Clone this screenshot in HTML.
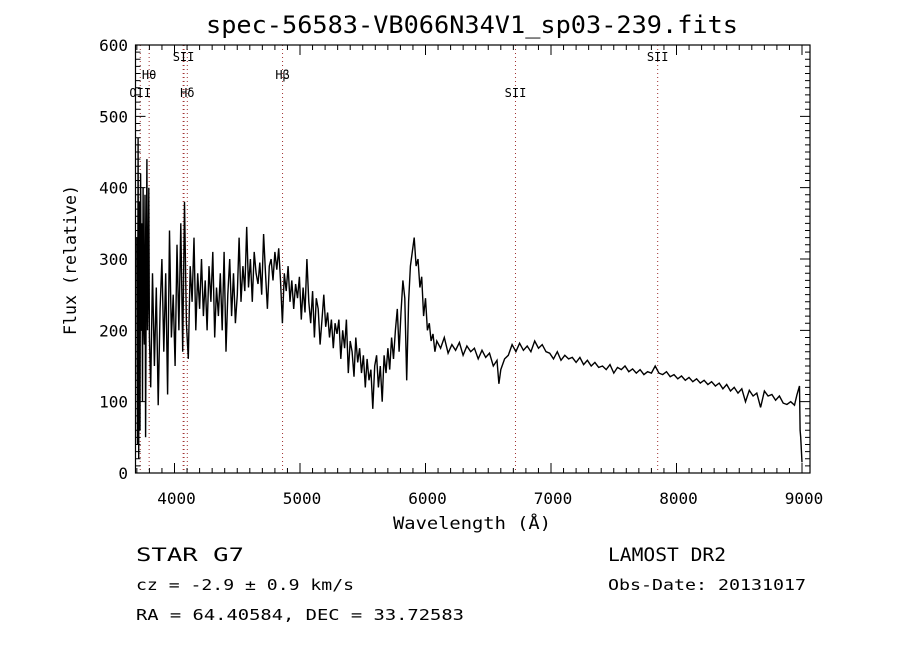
<!DOCTYPE html>
<html><head><meta charset="utf-8"><style>
body{margin:0;background:#fff;width:900px;height:650px;overflow:hidden}
svg text{font-family:"DejaVu Sans Mono","Liberation Mono",monospace;fill:#000}
</style></head><body>
<svg id="chart" width="900" height="650" viewBox="0 0 900 650" xmlns="http://www.w3.org/2000/svg">
<rect width="900" height="650" fill="#fff"/>
<text x="472" y="33" font-size="24" text-anchor="middle" textLength="532" lengthAdjust="spacingAndGlyphs">spec-56583-VB066N34V1_sp03-239.fits</text>
<g id="lines"></g>
<g id="spec"></g>
<g id="axes"></g>
<text x="472" y="529" font-size="17" text-anchor="middle" textLength="158" lengthAdjust="spacingAndGlyphs">Wavelength (Å)</text>
<text transform="translate(76,260) rotate(-90)" font-size="17" text-anchor="middle" textLength="150" lengthAdjust="spacingAndGlyphs">Flux (relative)</text>
<text x="136" y="561" font-size="19" textLength="108" lengthAdjust="spacingAndGlyphs">STAR   G7</text>
<text x="136" y="590" font-size="15" textLength="218" lengthAdjust="spacingAndGlyphs">cz = -2.9 ± 0.9 km/s</text>
<text x="136" y="620" font-size="15" textLength="328" lengthAdjust="spacingAndGlyphs">RA =  64.40584, DEC =  33.72583</text>
<text x="608" y="561" font-size="19" textLength="118" lengthAdjust="spacingAndGlyphs">LAMOST DR2</text>
<text x="608" y="590" font-size="15" textLength="198" lengthAdjust="spacingAndGlyphs">Obs-Date: 20131017</text>
</svg>
<script>
const wave=[3700,3705,3710,3715,3720,3725,3730,3735,3740,3745,3750,3755,3760,3765,3770,3775,3780,3785,3790,3795,3800,
3810,3825,3840,3855,3870,3885,3900,3915,3930,3945,3960,3975,3990,4005,4020,4035,4050,4065,4080,4095,4110,4125,4140,4155,4170,4185,4200,4215,4230,4245,4260,4275,4290,4305,4320,4335,4350,4365,4380,4395,4410,4425,4440,4455,4470,4485,4500,4515,4530,4545,4560,4575,4590,4605,4620,4635,4650,4665,4680,4695,4710,4725,4740,4755,4770,4785,4800,4815,4830,4845,4860,4875,4890,4905,4920,4935,4950,4965,4980,4995,5010,5025,5040,5055,5070,5085,5100,5115,5130,5145,5160,5175,5190,5205,5220,5235,5250,5265,5280,5295,5310,5325,5340,5355,5370,5385,5400,5415,5430,5445,5460,5475,5490,5505,5520,5535,5550,5565,5580,5595,5610,5625,5640,5655,5670,5685,5700,5715,5730,5745,5760,5775,5790,5805,5820,5835,5850,5865,5880,5895,5910,5925,5940,5955,5970,5985,6000,6015,6030,6045,6060,6075,6090,
6120,6150,6180,6210,6240,6270,6300,6330,6360,6390,6420,6450,6480,6510,6540,6570,6585,6600,6630,6660,6690,6720,6750,6780,6810,6840,6870,6900,6930,6960,6990,7020,7050,7080,7110,7140,7170,7200,7230,7260,7290,7320,7350,7380,7410,7440,7470,7500,7530,7560,7590,7620,7650,7680,7710,7740,7770,7800,7830,7860,7890,7920,7950,7980,8010,8040,8070,8100,8130,8160,8190,8220,8250,8280,8310,8340,8370,8400,8430,8460,8490,8520,8550,8580,8610,8640,8670,8700,8730,8760,8790,8820,8850,8880,8910,8940,8960,8980,8985,8990,9000];
const flux=[330,40,470,20,380,60,420,200,350,100,400,210,180,390,50,300,440,200,250,400,190,
120,280,150,260,95,230,300,170,280,110,340,190,250,150,320,200,350,170,380,210,160,290,240,330,200,280,230,300,220,270,200,290,240,310,190,260,220,280,200,310,170,250,300,220,280,210,250,330,240,290,255,345,260,300,240,310,280,265,295,250,335,280,230,290,300,270,310,285,315,270,210,280,255,290,240,270,230,265,245,275,215,260,225,300,240,210,255,190,245,230,180,215,250,205,225,190,215,175,210,195,215,160,200,175,215,140,185,170,135,190,155,175,140,165,120,160,130,145,90,150,165,120,150,100,165,140,175,145,190,160,200,230,170,225,270,245,130,240,290,310,330,290,300,260,275,220,245,200,210,185,195,170,185,
175,190,168,180,172,183,165,178,170,175,160,172,162,168,150,158,125,145,160,165,180,170,182,172,178,170,185,175,180,170,168,160,170,158,165,160,162,155,162,152,158,150,155,148,150,145,152,140,148,145,150,142,146,140,145,138,142,140,150,140,138,142,135,138,132,136,130,134,128,132,126,130,124,128,122,126,118,124,115,120,112,118,100,116,108,112,92,115,108,110,102,108,98,96,100,95,110,122,60,50,15];
const xTicks=[4000,5000,6000,7000,8000,9000];
const yTicks=[0,100,200,300,400,500,600];
const lineWaves=[3727,3798,4069,4076,4102,4861,6717,7850];
const lineLabels=[{t:"OII",w:3727,y:97},{t:"Hθ",w:3798,y:79},{t:"SII",w:4072,y:61},{t:"Hδ",w:4102,y:97},{t:"Hβ",w:4861,y:79},{t:"SII",w:6717,y:97},{t:"SII",w:7850,y:61}];
const L=135.5,R=810,T=45,B=473;
const X=w=>174.5+(w-4000)*0.1255;
const Y=f=>B-(f/600)*(B-T);
const NS="http://www.w3.org/2000/svg";
function mk(tag,attrs,parent){const e=document.createElementNS(NS,tag);for(const k in attrs)e.setAttribute(k,attrs[k]);parent.appendChild(e);return e;}
const gl=document.getElementById('lines'),gs=document.getElementById('spec'),ga=document.getElementById('axes');
lineWaves.forEach(w=>{const l=mk('line',{x1:X(w),x2:X(w),y1:T,y2:B,stroke:'#a03030','stroke-width':1,'stroke-dasharray':'1,3'},gl);

});
lineLabels.forEach(o=>{const t=mk('text',{x:X(o.w),y:o.y,'font-size':12,'text-anchor':'middle','font-family':'Liberation Serif,serif'},gl);t.textContent=o.t;

});
let d='';wave.forEach((w,i)=>{d+=(i?'L':'M')+X(w).toFixed(1)+','+Y(flux[i]).toFixed(1);});
const p=mk('path',{d:d,fill:'none',stroke:'#000','stroke-width':1.4},gs);


const fr=mk('rect',{x:L,y:T,width:R-L,height:B-T,fill:'none',stroke:'#000','stroke-width':1.2},ga);


let td='';
for(let w=3700;w<=9060;w+=100){const x=X(w);if(x<L||x>R)continue;const len=(w%1000===0)?10:5;td+=`M${x},${B}v${-len}M${x},${T}v${len}`;}
for(let f=0;f<=600;f+=10){const y=Y(f);const len=(f%100===0)?10:5;td+=`M${L},${y}h${len}M${R},${y}h${-len}`;}
const tk=mk('path',{d:td,stroke:'#000','stroke-width':1,fill:'none'},ga);


xTicks.forEach(w=>{const t=mk('text',{x:X(w)+2,y:504,'font-size':16,'text-anchor':'middle'},ga);t.textContent=w;

});
yTicks.forEach(f=>{const t=mk('text',{x:128,y:Y(f)+6,'font-size':16,'text-anchor':'end'},ga);t.textContent=f;

});
</script>
</body></html>
